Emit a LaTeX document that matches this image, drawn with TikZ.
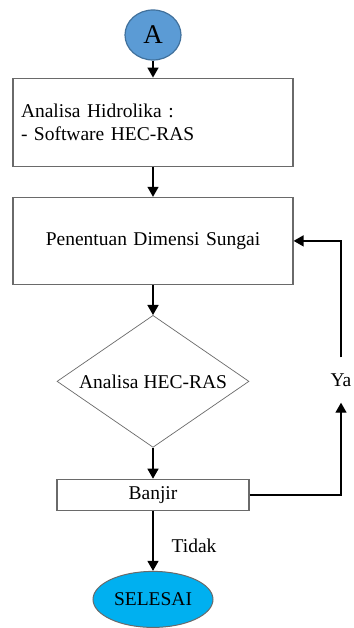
\documentclass[tikz,border=0pt]{standalone}
\usepackage{fontspec}
\setmainfont{Liberation Serif}
\usepackage{tikz}
\usetikzlibrary{arrows.meta,positioning,shapes.geometric}
\definecolor{biruA}{HTML}{5B9BD5}
\definecolor{biruAgaris}{HTML}{41719C}
\definecolor{biruselesai}{HTML}{00B0F0}
\definecolor{abugaris}{HTML}{6A6A6A}
\tikzset{
    %Define standard arrow tip
    >={Triangle[length=10pt,width=11pt]},
    %Define style for boxes
    kotak/.style={
           rectangle,
           draw=abugaris, line width=1.2pt,
           text width=264pt,
           inner sep=8pt,
           minimum height=88pt,
           font=\fontsize{19.5}{23}\selectfont},
    kotakkecil/.style={
           rectangle,
           draw=abugaris, line width=1.2pt,
           minimum width=192pt,
           minimum height=31pt,
           inner sep=0pt,
           font=\fontsize{19.5}{23}\selectfont,
           text centered},
    keputusan/.style={
           diamond,
           draw=abugaris, line width=0.7pt,
           minimum width=192pt,
           minimum height=132pt,
           aspect=1.45,
           inner sep=0pt,
           font=\fontsize{19.5}{23}\selectfont,
           text centered},
    konektor/.style={
           ellipse,
           draw=biruAgaris, line width=1.2pt,
           fill=biruA,
           minimum width=56pt,
           minimum height=50pt,
           inner sep=0pt,
           font=\fontsize{27}{30}\selectfont},
    terminal/.style={
           ellipse,
           draw=abugaris, line width=1pt,
           fill=biruselesai,
           minimum width=120pt,
           minimum height=56pt,
           inner sep=0pt,
           font=\fontsize{19.5}{23}\selectfont},
    label/.style={
           inner sep=0pt,
           font=\fontsize{19.5}{23}\selectfont},
    % Define arrow style
    pil/.style={
           ->,
           line width=1.4pt}
}
\begin{document}
\begin{tikzpicture}[node distance=18pt]
\useasboundingbox[fill=white] (0,0) rectangle (353pt,-628pt);
\node[konektor] (a) at (153pt,-35pt) {A};
\node[kotak, align=left, below=17pt of a] (hidrolika) {Analisa Hidrolika :\\- Software HEC-RAS};
\node[kotak, align=center, minimum height=87pt, below=30pt of hidrolika] (dimensi) {Penentuan Dimensi Sungai};
\node[keputusan, below=30pt of dimensi] (hecras) {Analisa HEC-RAS};
\node[kotakkecil, below=31pt of hecras] (banjir) {Banjir};
\node[terminal, below=60pt of banjir] (selesai) {SELESAI};
\node[label, minimum height=45pt] (ya) at (341pt,-380pt) {Ya};
\node[label] (tidak) at (194pt,-546pt) {Tidak};
 \path[pil]
    (a) edge (hidrolika)
    (hidrolika) edge (dimensi)
    (dimensi) edge (hecras)
    (hecras) edge (banjir)
    (banjir) edge (selesai);
\draw[pil] (banjir.east) -| (ya.south);
\draw[pil] (ya.north) |- (dimensi.east);
\end{tikzpicture}
\end{document}
